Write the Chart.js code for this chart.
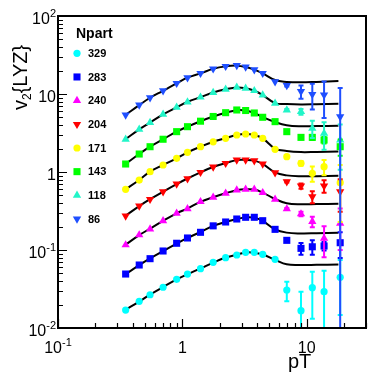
<!DOCTYPE html>
<html lang="en">
<head>
<meta charset="UTF-8">
<title>v2{LYZ} vs pT</title>
<script src="https://cdn.jsdelivr.net/npm/chart.js"></script>
<style>
  body { margin: 0; background: #fff; }
  #wrap { width: 374px; height: 378px; }
</style>
</head>
<body>
<div id="wrap"><canvas id="v2Chart" width="374" height="378"></canvas></div>
<script>
// pT bin centres (GeV/c) for the measured points
const ptBins = [0.35, 0.45, 0.55, 0.7, 0.9, 1.1, 1.4, 1.77, 2.23, 2.74, 3.23, 3.79, 4.43, 5.57, 6.92, 9.0, 11.1, 13.8, 18.6];
const fitPt = [0.35, 0.45, 0.55, 0.7, 0.9, 1.1, 1.4, 1.77, 2.23, 2.74, 3.23, 3.79, 4.43, 5.57, 6.9, 9, 12, 18];

const npart = ['329', '283', '240', '204', '171', '143', '118', '86'];

// plotted v2{LYZ} values (already offset on the plot), errors, fit curves
const v2_329 = [0.0170, 0.0220, 0.0267, 0.0333, 0.0421, 0.0492, 0.0576, 0.0696, 0.0797, 0.0863, 0.0935, 0.0935, 0.0881, 0.0760, 0.0307, 0.0167, 0.0329, 0.0292, 0.0447];
const err_329 = [0, 0, 0, 0, 0, 0, 0, 0, 0, 0, 0, 0, 0, 0, 0.0086, 0.0125, 0.0198, 0.025, 0.03];
const fit_329 = [0.0172, 0.0218, 0.0268, 0.0335, 0.0420, 0.0490, 0.0580, 0.0690, 0.0800, 0.0870, 0.0930, 0.0925, 0.0875, 0.0750, 0.0655, 0.0642, 0.0645, 0.0650];

const v2_283 = [0.0492, 0.0642, 0.0774, 0.0971, 0.122, 0.1426, 0.1686, 0.204, 0.2286, 0.2497, 0.2626, 0.2626, 0.2375, 0.184, 0.133, 0.105, 0.110, 0.1125, 0.124];
const err_283 = [0, 0, 0, 0, 0, 0, 0, 0, 0, 0, 0, 0, 0, 0, 0.006, 0.018, 0.023, 0.014, 0.045];
const fit_283 = [0.049, 0.064, 0.078, 0.097, 0.121, 0.143, 0.170, 0.204, 0.229, 0.250, 0.262, 0.260, 0.236, 0.184, 0.167, 0.163, 0.164, 0.166];

const v2_240 = [0.116, 0.156, 0.186, 0.236, 0.296, 0.338, 0.416, 0.474, 0.533, 0.588, 0.600, 0.600, 0.543, 0.447, 0.336, 0.290, 0.231, 0.141, 0.22];
const err_240 = [0, 0, 0, 0, 0, 0, 0, 0, 0, 0, 0, 0, 0, 0, 0.01, 0.02, 0.035, 0.06, 0.12];
const fit_240 = [0.117, 0.155, 0.188, 0.236, 0.295, 0.340, 0.415, 0.475, 0.535, 0.585, 0.600, 0.595, 0.545, 0.450, 0.398, 0.386, 0.388, 0.392];

const v2_204 = [0.273, 0.367, 0.447, 0.559, 0.702, 0.821, 0.991, 1.159, 1.293, 1.425, 1.425, 1.396, 1.266, 0.980, 0.751, 0.662, 0.482, 0.662, 0.559];
const err_204 = [0, 0, 0, 0, 0, 0, 0, 0, 0, 0, 0, 0, 0, 0, 0.02, 0.05, 0.085, 0.12, 0.25];
const fit_204 = [0.275, 0.365, 0.448, 0.560, 0.700, 0.825, 0.990, 1.16, 1.30, 1.42, 1.43, 1.40, 1.27, 0.99, 0.905, 0.880, 0.885, 0.895];

const v2_171 = [0.600, 0.789, 1.009, 1.229, 1.498, 1.789, 2.11, 2.44, 2.70, 2.98, 3.07, 2.98, 2.70, 1.954, 1.571, 1.293, 0.962, 1.17, 0.729];
const err_171 = [0, 0, 0, 0, 0, 0, 0, 0, 0, 0, 0, 0, 0, 0, 0.03, 0.09, 0.21, 0.26, 0.5];
const fit_171 = [0.60, 0.79, 1.01, 1.23, 1.50, 1.79, 2.11, 2.44, 2.72, 2.98, 3.06, 2.98, 2.70, 2.00, 1.86, 1.80, 1.81, 1.83];

const v2_143 = [1.266, 1.70, 2.11, 2.63, 3.29, 3.81, 4.48, 5.15, 5.76, 6.24, 6.14, 5.71, 5.03, 4.42, 3.29, 2.78, 2.78, 2.57, 2.11];
const err_143 = [0, 0, 0, 0, 0, 0, 0, 0, 0, 0, 0, 0, 0, 0, 0.05, 0.15, 0.2, 0.25, 0.5];
const fit_143 = [1.27, 1.70, 2.11, 2.63, 3.29, 3.81, 4.48, 5.15, 5.76, 6.20, 6.15, 5.72, 5.05, 4.37, 3.98, 3.86, 3.88, 3.92];

const v2_118 = [2.63, 3.53, 4.29, 5.49, 6.75, 7.89, 9.10, 10.45, 11.49, 12.19, 11.83, 11.02, 9.71, 7.60, 6.24, 5.93, 3.63, 3.13, 2.57];
const err_118 = [0, 0, 0, 0, 0, 0, 0, 0, 0, 0, 0, 0, 0, 0, 0.2, 0.5, 0.9, 1.2, 1.5];
const fit_118 = [2.63, 3.52, 4.30, 5.48, 6.75, 7.90, 9.10, 10.45, 11.5, 12.15, 11.85, 11.0, 9.70, 7.65, 7.45, 7.35, 7.40, 7.50];

const v2_86 = [5.38, 7.23, 8.97, 11.02, 13.71, 16.18, 18.42, 21.04, 22.65, 23.19, 22.18, 20.49, 18.42, 14.38, 12.85, 10.76, 9.91, 9.71, 5.12];
const err_86 = [0, 0, 0, 0, 0, 0, 0, 0, 0, 0, 0, 0, 0, 0, 0.4, 2.1, 3.6, 4.8, 6.8];
const fit_86 = [5.40, 7.20, 8.95, 11.0, 13.7, 16.2, 18.4, 21.0, 22.6, 23.1, 22.2, 20.5, 18.4, 15.1, 14.3, 14.1, 14.3, 14.7];

// axis tick labels (base, exponent)
const xTickVals = [0.1, 1, 10];
const xTickText = [['10', '-1'], ['1', ''], ['10', '']];
const yTickVals = [0.01, 0.1, 1, 10, 100];
const yTickText = [['10', '-2'], ['10', '-1'], ['1', ''], ['10', ''], ['10', '2']];

const series = [
    { label: npart[0], vals: v2_329, errs: err_329, fit: fit_329 },
    { label: npart[1], vals: v2_283, errs: err_283, fit: fit_283 },
    { label: npart[2], vals: v2_240, errs: err_240, fit: fit_240 },
    { label: npart[3], vals: v2_204, errs: err_204, fit: fit_204 },
    { label: npart[4], vals: v2_171, errs: err_171, fit: fit_171 },
    { label: npart[5], vals: v2_143, errs: err_143, fit: fit_143 },
    { label: npart[6], vals: v2_118, errs: err_118, fit: fit_118 },
    { label: npart[7], vals: v2_86, errs: err_86, fit: fit_86 }
];

const colors = ['#00ffff', '#0000ff', '#ff00ff', '#ff0000', '#ffff00', '#00ff00', '#22f5c8', '#1f4fff'];
const shapes = ['circle', 'rect', 'triangle', 'triangle', 'circle', 'rect', 'triangle', 'triangle'];
const rotations = [0, 0, 0, 180, 0, 0, 0, 180];
const radii = { circle: 3.6, rect: 5, triangle: 4.8 };
const FONT = "'Liberation Sans', Arial, Helvetica, sans-serif";

const datasets = [];
series.forEach((s, i) => {
    datasets.push({
        type: 'line',
        data: fitPt.map((x, j) => ({ x: x, y: s.fit[j] })),
        borderColor: '#000',
        borderWidth: 2,
        pointRadius: 0,
        showLine: true,
        fill: false,
        tension: 0.4,
        order: 10
    });
    datasets.push({
        type: 'scatter',
        data: ptBins.map((x, j) => ({ x: x, y: s.vals[j] })),
        pointStyle: shapes[i],
        pointRotation: rotations[i],
        pointRadius: radii[shapes[i]],
        backgroundColor: colors[i],
        borderColor: colors[i],
        borderWidth: 0,
        order: 8 - i
    });
});

function drawMarker(ctx, i, x, y) {
    const r = radii[shapes[i]];
    ctx.fillStyle = colors[i];
    ctx.beginPath();
    if (shapes[i] === 'circle') {
        ctx.arc(x, y, r, 0, Math.PI * 2);
    } else if (shapes[i] === 'rect') {
        const h = r * Math.SQRT1_2;
        ctx.rect(x - h, y - h, 2 * h, 2 * h);
    } else {
        const dir = rotations[i] ? -1 : 1;
        for (let k = 0; k < 3; k++) {
            const a = k * 2 * Math.PI / 3;
            const px = x + Math.sin(a) * r;
            const py = y - dir * Math.cos(a) * r;
            if (k === 0) ctx.moveTo(px, py); else ctx.lineTo(px, py);
        }
        ctx.closePath();
    }
    ctx.fill();
}

function powLabel(ctx, base, exp, x, y, align) {
    ctx.font = '16px ' + FONT;
    const wb = ctx.measureText(base).width;
    ctx.font = '11px ' + FONT;
    const we = exp ? ctx.measureText(exp).width : 0;
    const x0 = align === 'right' ? x - wb - we : x - (wb + we) / 2;
    ctx.textAlign = 'left';
    ctx.textBaseline = 'alphabetic';
    ctx.font = '16px ' + FONT;
    ctx.fillText(base, x0, y);
    if (exp) {
        ctx.font = '11px ' + FONT;
        ctx.fillText(exp, x0 + wb, y - 7);
    }
}

const rootStyle = {
    id: 'rootStyle',
    afterDatasetsDraw(chart) {
        const ctx = chart.ctx;
        const a = chart.chartArea;
        const xs = chart.scales.x;
        const ys = chart.scales.y;

        // error bars
        ctx.save();
        ctx.beginPath();
        ctx.rect(a.left, a.top, a.right - a.left, a.bottom - a.top);
        ctx.clip();
        ctx.lineWidth = 2;
        series.forEach((s, i) => {
            ctx.strokeStyle = colors[i];
            s.errs.forEach((e, j) => {
                if (!e) return;
                const px = xs.getPixelForValue(ptBins[j]);
                const hi = ys.getPixelForValue(s.vals[j] + e);
                const lo = ys.getPixelForValue(Math.max(s.vals[j] - e, 1e-4));
                ctx.beginPath();
                ctx.moveTo(px, hi); ctx.lineTo(px, lo);
                ctx.moveTo(px - 2.5, hi); ctx.lineTo(px + 2.5, hi);
                ctx.moveTo(px - 2.5, lo); ctx.lineTo(px + 2.5, lo);
                ctx.stroke();
            });
        });
        ctx.restore();

        // frame and ticks
        ctx.save();
        ctx.strokeStyle = '#000';
        ctx.lineWidth = 2;
        ctx.strokeRect(a.left, a.top, a.right - a.left, a.bottom - a.top);
        ctx.lineWidth = 1.2;
        ctx.beginPath();
        for (let d = -2; d <= 2; d++) {
            for (let k = 1; k <= 9; k++) {
                const v = k * Math.pow(10, d);
                if (v > 100.001) break;
                const py = Math.round(ys.getPixelForValue(v)) + 0.5;
                const len = k === 1 ? 9 : 5;
                ctx.moveTo(a.left, py); ctx.lineTo(a.left + len, py);
            }
        }
        for (let d = -1; d <= 1; d++) {
            for (let k = 1; k <= 9; k++) {
                const v = k * Math.pow(10, d);
                if (v > 30) break;
                const px = Math.round(xs.getPixelForValue(v)) + 0.5;
                const len = k === 1 ? 9 : 5;
                ctx.moveTo(px, a.bottom); ctx.lineTo(px, a.bottom - len);
            }
        }
        ctx.stroke();

        // tick labels
        ctx.fillStyle = '#000';
        xTickVals.forEach((v, i) => {
            powLabel(ctx, xTickText[i][0], xTickText[i][1], xs.getPixelForValue(v), a.bottom + 25, 'center');
        });
        yTickVals.forEach((v, i) => {
            powLabel(ctx, yTickText[i][0], yTickText[i][1], a.left - 2, ys.getPixelForValue(v) + 8, 'right');
        });

        // axis titles
        ctx.font = '20px ' + FONT;
        ctx.textAlign = 'left';
        ctx.textBaseline = 'alphabetic';
        ctx.fillText('pT', 288, 368);

        ctx.translate(27, 110);
        ctx.rotate(-Math.PI / 2);
        ctx.font = '20px ' + FONT;
        ctx.fillText('v', 0, 0);
        let w = ctx.measureText('v').width;
        ctx.font = '12px ' + FONT;
        ctx.fillText('2', w, 4);
        w += ctx.measureText('2').width;
        ctx.font = '20px ' + FONT;
        ctx.fillText('{LYZ}', w, 0);
        ctx.restore();

        // legend
        ctx.save();
        ctx.fillStyle = '#000';
        ctx.font = 'bold 14px ' + FONT;
        ctx.textAlign = 'left';
        ctx.textBaseline = 'alphabetic';
        ctx.fillText('Npart', 76, 38);
        series.forEach((s, i) => {
            const y = 53.3 + i * 23.67;
            drawMarker(ctx, i, 77, y);
            ctx.fillStyle = '#000';
            ctx.font = 'bold 11px ' + FONT;
            ctx.textBaseline = 'middle';
            ctx.fillText(s.label, 88, y + 0.5);
        });
        ctx.restore();
    }
};

new Chart(document.getElementById('v2Chart').getContext('2d'), {
    type: 'scatter',
    data: { datasets: datasets },
    options: {
        responsive: false,
        animation: false,
        devicePixelRatio: 1,
        layout: { padding: { left: 58, right: 8, top: 16, bottom: 50 } },
        plugins: { legend: { display: false }, tooltip: { enabled: false } },
        scales: {
            x: { type: 'logarithmic', min: 0.1, max: 30, display: false },
            y: { type: 'logarithmic', min: 0.01, max: 100, display: false }
        }
    },
    plugins: [rootStyle]
});
</script>
</body>
</html>
